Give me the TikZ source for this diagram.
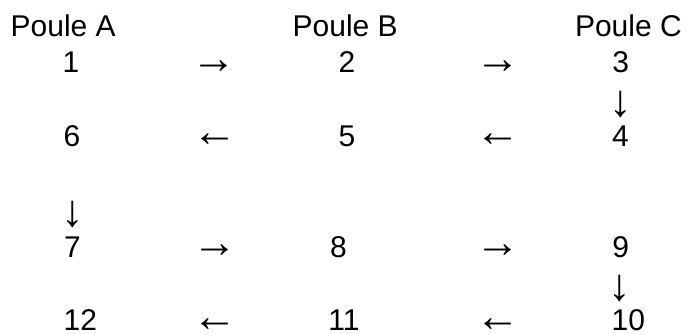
\documentclass[tikz,border=0pt]{standalone}
\usepackage{fontspec}
\setmainfont{Liberation Sans}
\begin{document}
\begin{tikzpicture}[x=1bp,y=1bp,
  lbl/.style={inner sep=0pt, outer sep=0pt, font=\fontsize{30bp}{36bp}\selectfont, anchor=base west},
  sym/.style={inner sep=0pt, outer sep=0pt, font=\fontsize{45bp}{54bp}\selectfont, anchor=base}]
\useasboundingbox (0,0) rectangle (691,-333);
% headers
\node[lbl] (pa) at (10.7,-36.7) {Poule A};
\node[lbl] (pb) at (292.7,-36.7) {Poule B};
\node[lbl] (pc) at (575,-36.7) {Poule C};
% row 1
\node[lbl] (n1) at (62.7,-72.7) {1};
\node[sym] (r1a) at (214,-73.4) {→};
\node[lbl] (n2) at (338.7,-72.7) {2};
\node[sym] (r1b) at (497.7,-73.4) {→};
\node[lbl] (n3) at (612.3,-72.7) {3};
\node[sym] (d1) at (620.5,-116.7) {↓};
% row 2
\node[lbl] (n6) at (63.7,-146.7) {6};
\node[sym] (r2a) at (215.3,-146.7) {←};
\node[lbl] (n5) at (338.7,-146.7) {5};
\node[sym] (r2b) at (498,-146.7) {←};
\node[lbl] (n4) at (612,-146.7) {4};
\node[sym] (d2) at (72.5,-226) {↓};
% row 3
\node[lbl] (n7) at (64,-257.7) {7};
\node[sym] (r3a) at (215,-257.4) {→};
\node[lbl] (n8) at (330,-257.7) {8};
\node[sym] (r3b) at (498,-257.4) {→};
\node[lbl] (n9) at (612.3,-257.7) {9};
\node[sym] (d3) at (620,-300) {↓};
% row 4
\node[lbl] (n12) at (63.7,-330.5) {12};
\node[sym] (r4a) at (215,-331) {←};
\node[lbl] (n11) at (328.4,-330.5) {11};
\node[sym] (r4b) at (498,-331) {←};
\node[lbl] (n10) at (611.7,-330.5) {10};
\end{tikzpicture}
\end{document}
